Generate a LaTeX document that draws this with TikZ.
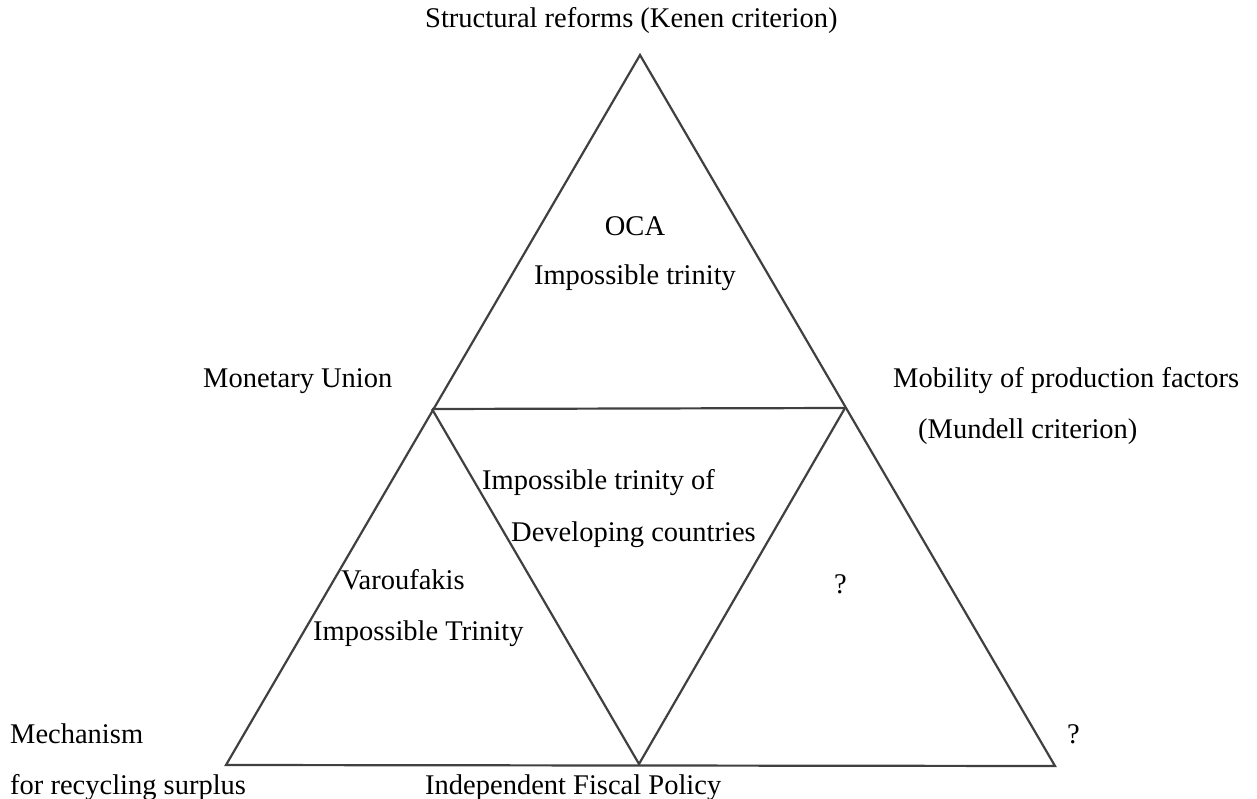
\documentclass[tikz,border=0pt]{standalone}
\usepackage{fontspec}
\setmainfont{Liberation Serif}
\begin{document}
\begin{tikzpicture}[x=1pt,y=-1pt,
  edge/.style={draw=black!75, line width=2.2pt, line join=miter},
  lbl/.style={inner sep=0pt, font=\fontsize{28.5}{32}\selectfont, anchor=base west}]
\useasboundingbox[clip] (0,0) rectangle (1257,799);
\coordinate (A) at (640,55);
\coordinate (BL) at (226,765);
\coordinate (BR) at (1055,766);
\coordinate (ML) at (432,409);
\coordinate (MR) at (845,408);
\coordinate (BM) at (639,764);
\draw[edge] (A) -- (BL) -- (BR) -- cycle;
\draw[edge] (ML) -- (MR);
\draw[edge] (ML) -- (BM) -- (MR);
\node[lbl] (t1) at (425,28) {Structural reforms (Kenen criterion)};
\node[lbl,anchor=base] (t2) at (635,236) {OCA};
\node[lbl,anchor=base] (t3) at (635,285) {Impossible trinity};
\node[lbl] (t4) at (203,387) {Monetary Union};
\node[lbl] (t5) at (893,387) {Mobility of production factors};
\node[lbl] (t6) at (918,438) {(Mundell criterion)};
\node[lbl] (t7) at (482,489) {Impossible trinity of};
\node[lbl] (t8) at (511,541) {Developing countries};
\node[lbl] (t9) at (341,589) {Varoufakis};
\node[lbl] (t10) at (834,593) {?};
\node[lbl] (t11) at (313,640) {Impossible Trinity};
\node[lbl] (t12) at (10,743) {Mechanism};
\node[lbl] (t13) at (1067,743) {?};
\node[lbl] (t14) at (10,794) {for recycling surplus};
\node[lbl] (t15) at (425,794) {Independent Fiscal Policy};
\end{tikzpicture}
\end{document}
